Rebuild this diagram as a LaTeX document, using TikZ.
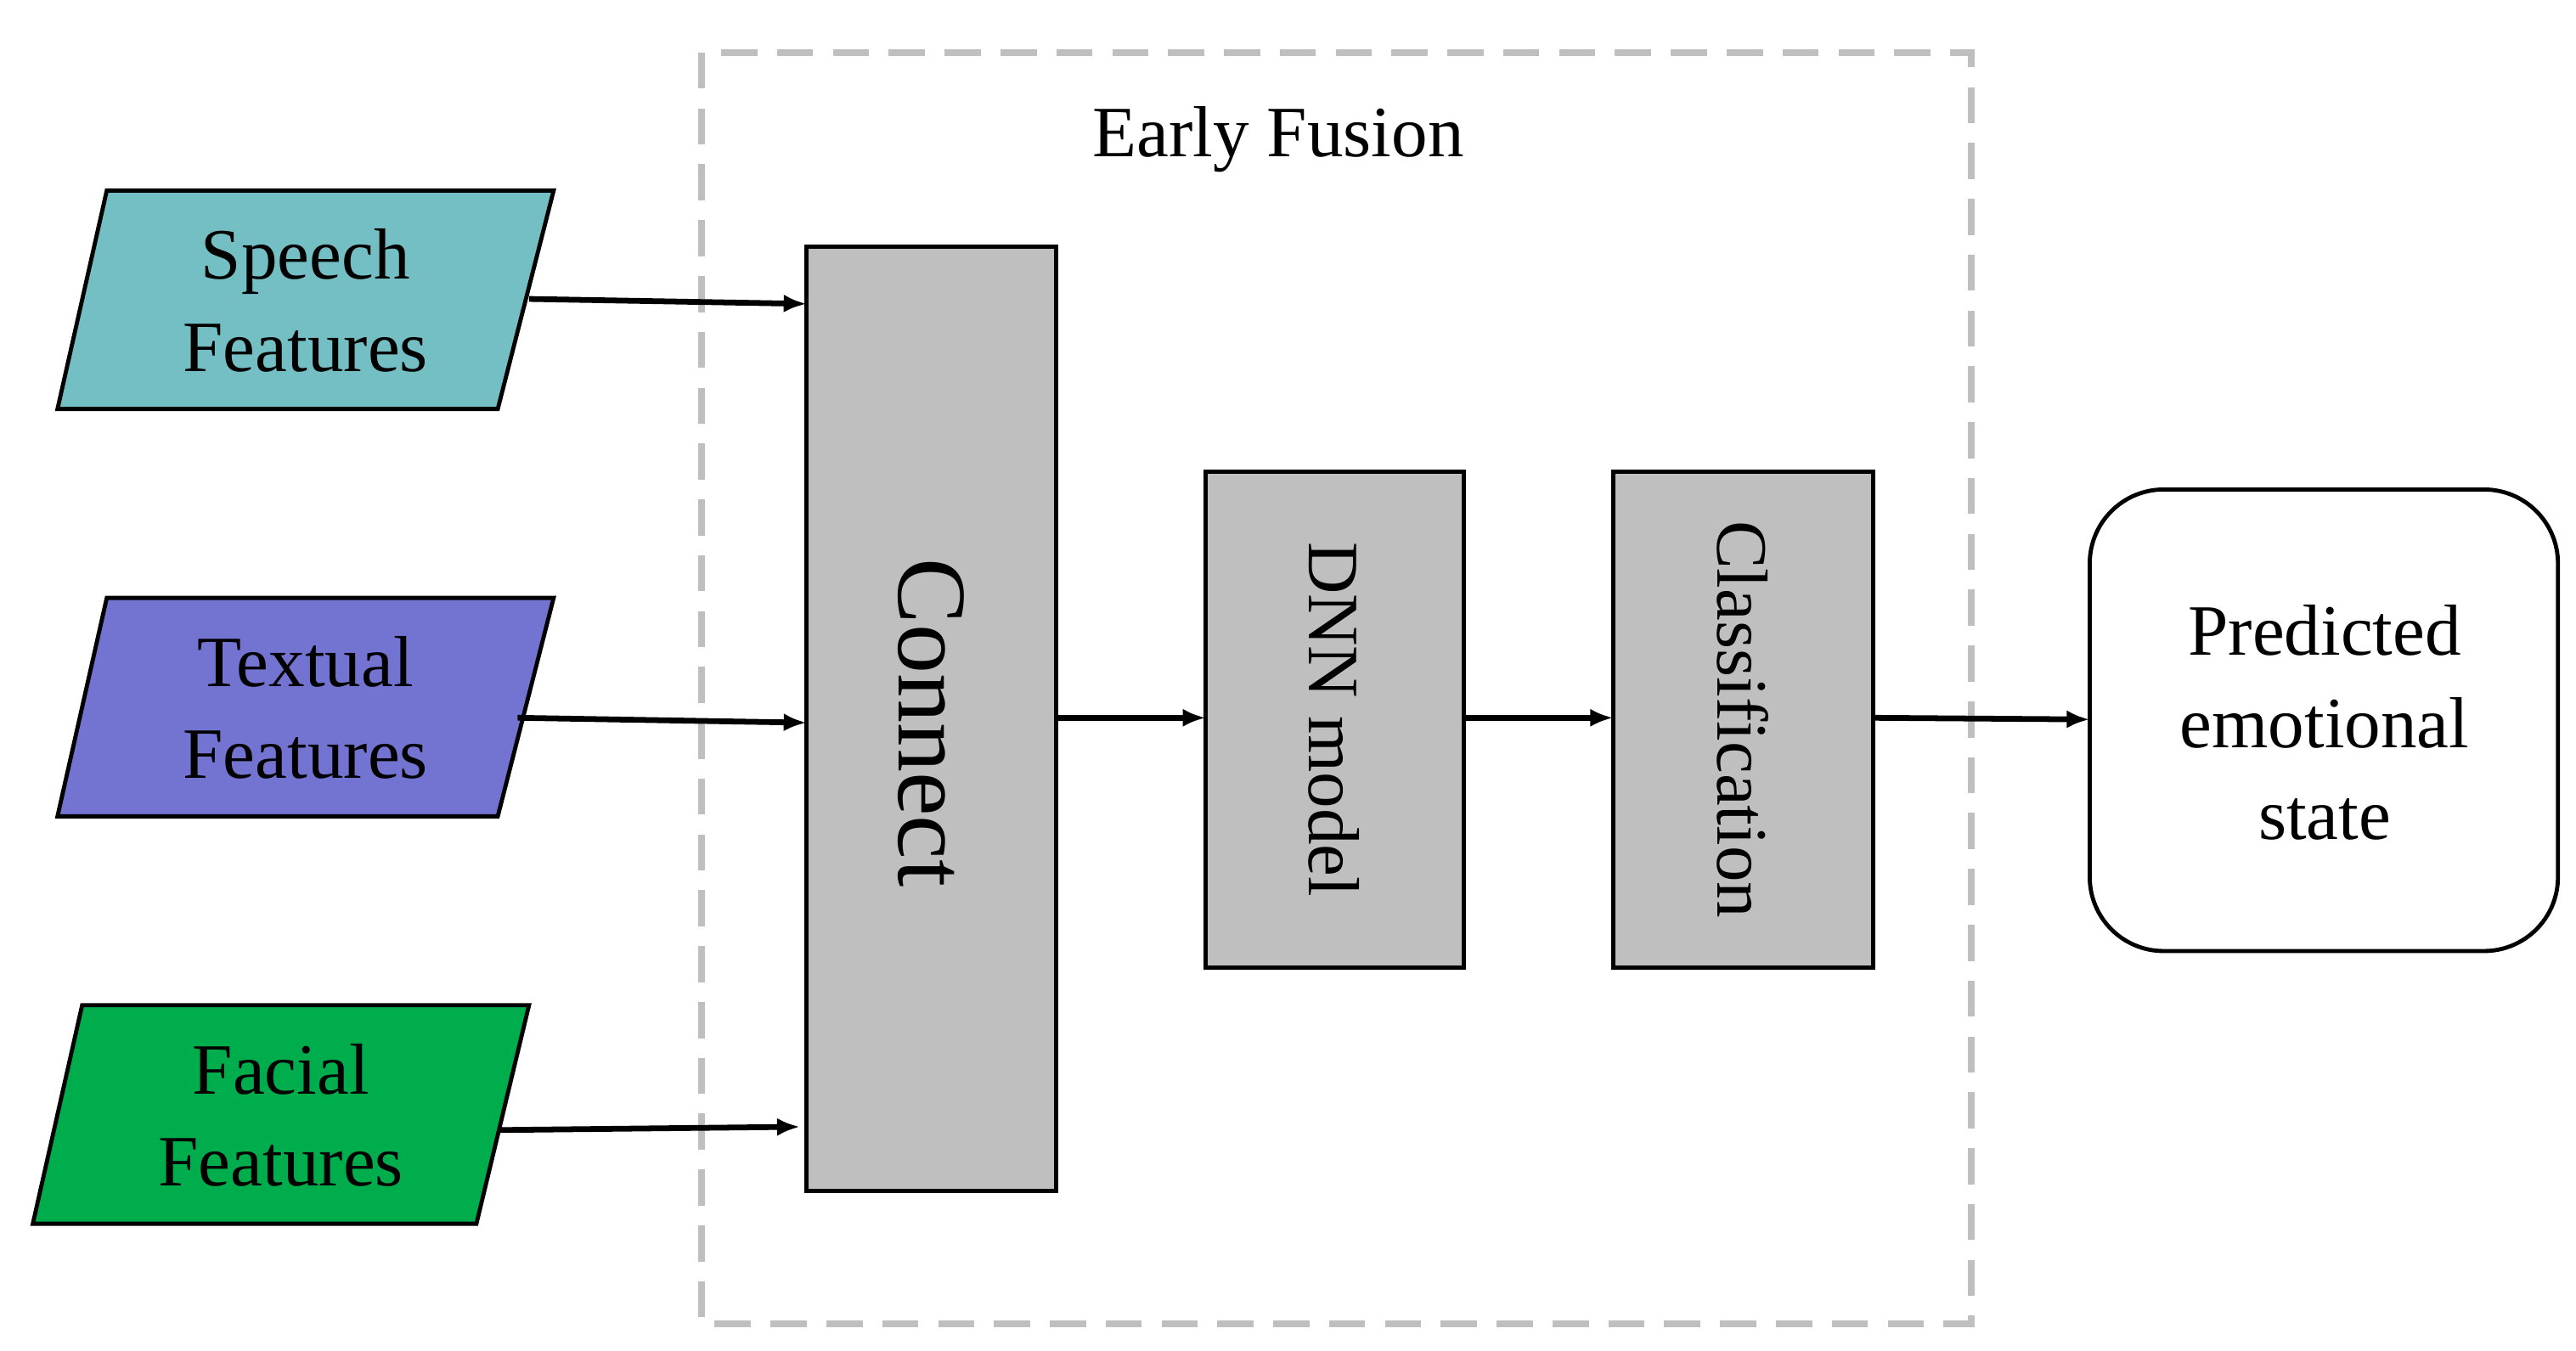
\documentclass[tikz,border=0pt]{standalone}
\usepackage{fontspec}
\setmainfont{Liberation Serif}
\begin{document}
\begin{tikzpicture}[x=1pt,y=-1pt,
  box/.style={draw=black,line width=2.5pt,fill=boxgray},
  arr/.style={line width=3.5pt,-{Latex[length=14pt,width=11pt]}},
  txt/.style={font=\fontsize{44}{56}\selectfont,align=center},
  para/.style={draw=black,line width=2.5pt}]
\usetikzlibrary{arrows.meta}
\definecolor{boxgray}{HTML}{BFBFBF}
\definecolor{sp}{HTML}{74BFC4}
\definecolor{tx}{HTML}{7373D1}
\definecolor{fa}{HTML}{00AD4C}
\useasboundingbox (0,0) rectangle (1568,822);
\draw[gray!50,line width=4pt,dash pattern=on 22pt off 12pt] (427,32) rectangle (1200,806);
\node[txt] (ef) at (778,85) {Early Fusion};
\draw[para,fill=sp] (65,116)--(337,116)--(303,249)--(35,249)--cycle;
\node[txt] (sp) at (186,183) {Speech\\Features};
\draw[para,fill=tx] (65,364)--(337,364)--(303,497)--(35,497)--cycle;
\node[txt] (tx) at (186,431) {Textual\\Features};
\draw[para,fill=fa] (50,612)--(322,612)--(290,745)--(20,745)--cycle;
\node[txt] (fa) at (171,679) {Facial\\Features};
\coordinate (spo) at (322,182);
\coordinate (txo) at (315,437);
\coordinate (fao) at (303,688);
\draw[box] (491,150) rectangle (643,725);
\node[font=\fontsize{60}{70}\selectfont,rotate=-90] (con) at (567,440) {Connect};
\draw[box] (734,287) rectangle (891,589);
\node[txt,rotate=-90] (dnn) at (812,438) {DNN model};
\draw[box] (982,287) rectangle (1140,589);
\node[txt,rotate=-90] (cls) at (1061,438) {Classification};
\draw[line width=2.5pt,rounded corners=45pt] (1272,298) rectangle (1557,579);
\node[txt] (pr) at (1415,440) {Predicted\\emotional\\state};
\coordinate (ci1) at (491,185); \coordinate (ci2) at (491,440); \coordinate (ci3) at (487,686);
\coordinate (co) at (643,437); \coordinate (di) at (734,437); \coordinate (do) at (891,437);
\coordinate (cli) at (982,437); \coordinate (clo) at (1140,437); \coordinate (pri) at (1272,438);
\draw[arr] (spo)--(ci1);
\draw[arr] (txo)--(ci2);
\draw[arr] (fao)--(ci3);
\draw[arr] (co)--(di);
\draw[arr] (do)--(cli);
\draw[arr] (clo)--(pri);
\end{tikzpicture}
\end{document}
